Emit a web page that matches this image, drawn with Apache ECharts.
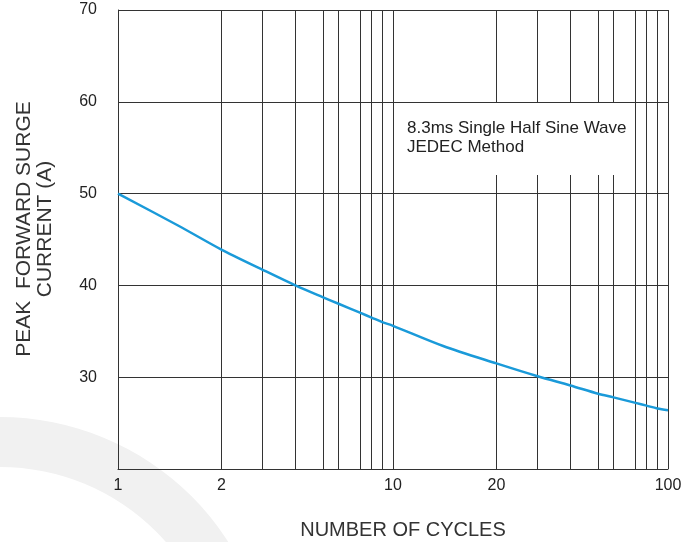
<!DOCTYPE html>
<html><head><meta charset="utf-8">
<script src="https://cdn.jsdelivr.net/npm/echarts@6/dist/echarts.min.js"></script>
<style>html,body{margin:0;padding:0;background:#fff}#c{width:698px;height:542px}</style>
</head><body><div id="c"></div>
<script>
// Data
const cycles  = [1, 1.5, 2, 3, 4, 5, 6, 7, 8, 9, 10, 14, 20, 30, 40, 50, 60, 70, 80, 90, 100];
const current = [50.0, 46.5, 43.9, 41.7, 40.0, 38.7, 38.0, 37.0, 36.5, 36.0, 35.6, 33.4, 31.5, 30.1, 29.1, 28.2, 27.8, 27.2, 26.9, 26.6, 26.4];

const xGridValues  = [1,2,3,4,5,6,7,8,9,10,20,30,40,50,60,70,80,90,100];
const xLabelValues = [1,2,10,20,100];
const yTickValues  = [30,40,50,60,70];
// printed cycle scale of the original sheet: where mantissa 1..10 sits within one decade
const decadeScale = [0,0.376,0.526,0.645,0.746,0.802,0.882,0.922,0.961,1];

function toAxis(v){
  const d = Math.floor(Math.log10(v) + 1e-9);
  if (d >= 2) return 2;
  const m = v / Math.pow(10, d);
  let k = Math.floor(m + 1e-9); if (k >= 10) k = 9;
  const frac = (Math.log(m) - Math.log(k)) / (Math.log(k + 1) - Math.log(k));
  return d + decadeScale[k - 1] + frac * (decadeScale[k] - decadeScale[k - 1]);
}

const FONT = '"Liberation Sans", Arial, sans-serif';
const chart = echarts.init(document.getElementById('c'), null, {renderer: 'canvas'});
chart.setOption({
  backgroundColor: '#fff',
  animation: false,
  grid: {left: 118, top: 10, width: 550, height: 459},
  xAxis: {
    type: 'value', min: 0, max: 2,
    axisLine: {show: true, lineStyle: {color: '#333', width: 1}},
    axisTick: {show: false, customValues: xGridValues.map(toAxis)},
    axisLabel: {
      customValues: xLabelValues.map(toAxis),
      formatter: function (v) {
        for (const c of xLabelValues) if (Math.abs(toAxis(c) - v) < 1e-6) return String(c);
        return '';
      },
      margin: 9, fontSize: 16, color: '#222', fontFamily: FONT
    },
    splitLine: {show: true, lineStyle: {color: '#333', width: 1}}
  },
  yAxis: {
    type: 'value', min: 20, max: 70, interval: 10,
    axisLine: {show: true, lineStyle: {color: '#333', width: 1}},
    axisTick: {show: false},
    axisLabel: {
      formatter: function (v) { return yTickValues.indexOf(v) >= 0 ? String(v) : ''; },
      margin: 21, fontSize: 16, color: '#222', fontFamily: FONT
    },
    splitLine: {show: true, lineStyle: {color: '#333', width: 1}}
  },
  series: [{
    type: 'line',
    data: cycles.map((c, i) => [toAxis(c), current[i]]),
    smooth: 0.3, symbol: 'none',
    lineStyle: {color: '#1a9ad9', width: 2.5},
    z: 5
  }],
  graphic: [
    {type: 'ring', z: -10, silent: true, shape: {cx: 0, cy: 688, r: 271, r0: 221}, style: {fill: '#f1f1f1'}},
    {type: 'rect', z: 50, shape: {x: 394.5, y: 103, width: 236, height: 72}, style: {fill: '#fff'}},
    {type: 'text', z: 51, x: 407, y: 128, style: {text: '8.3ms Single Half Sine Wave', font: '17px ' + FONT, fill: '#222', verticalAlign: 'middle'}},
    {type: 'text', z: 51, x: 407, y: 147, style: {text: 'JEDEC Method', font: '17px ' + FONT, fill: '#222', verticalAlign: 'middle'}},
    {type: 'text', z: 51, x: 24, y: 229, rotation: Math.PI / 2, style: {text: 'PEAK  FORWARD SURGE', font: '21px ' + FONT, fill: '#333', align: 'center', verticalAlign: 'middle'}},
    {type: 'text', z: 51, x: 45, y: 229, rotation: Math.PI / 2, style: {text: 'CURRENT (A)', font: '21px ' + FONT, fill: '#333', align: 'center', verticalAlign: 'middle'}},
    {type: 'text', z: 51, x: 403, y: 530, style: {text: 'NUMBER OF CYCLES', font: '20px ' + FONT, fill: '#333', align: 'center', verticalAlign: 'middle'}}
  ]
});
</script></body></html>
